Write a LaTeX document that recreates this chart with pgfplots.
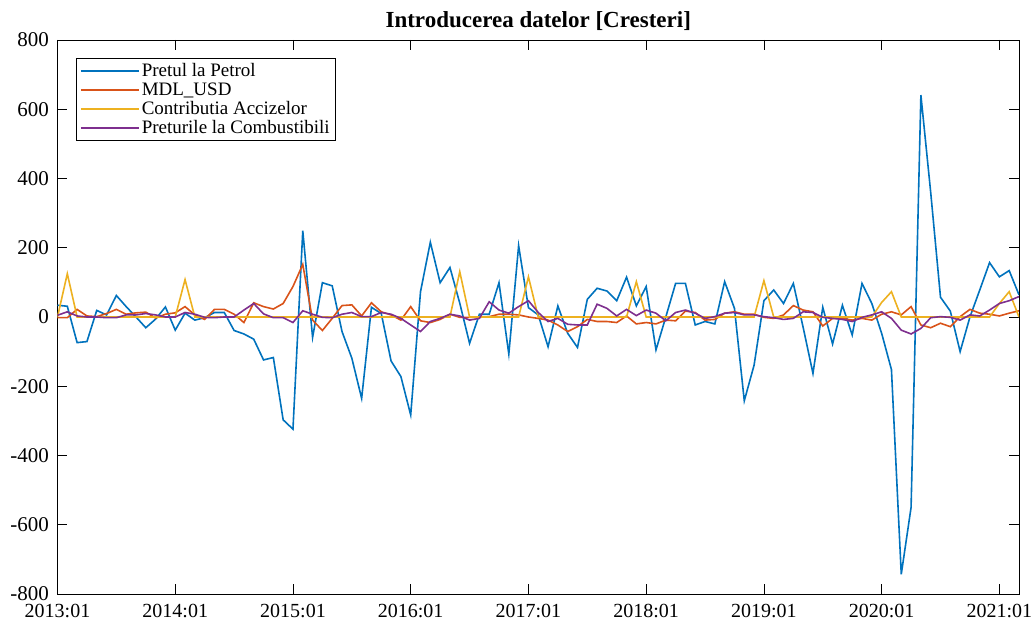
\documentclass[border=0pt]{standalone}
\usepackage{pgfplots}
\pgfplotsset{compat=1.18}
\usepackage{fontspec}
\setmainfont{Liberation Serif}

\definecolor{mblue}{rgb}{0,0.447,0.741}
\definecolor{mred}{rgb}{0.85,0.325,0.098}
\definecolor{myellow}{rgb}{0.929,0.694,0.125}
\definecolor{mpurple}{rgb}{0.494,0.184,0.556}

\pgfplotstableread{
i petrol mdl accize comb
0 34 -2 0 5
1 31 -2 125 15
2 -74 22 0 3
3 -71 3 0 0
4 19 1 0 0
5 6 10 0 -2
6 62 22 0 -2
7 30 8 0 6
8 0 12 0 6
9 -31 14 0 10
10 -6 -3 0 6
11 29 8 0 0
12 -38 12 0 0
13 11 30 108 13
14 -9 6 0 8
15 -2 -7 0 -1
16 13 22 0 -2
17 13 22 0 0
18 -39 8 0 0
19 -49 -16 0 20
20 -64 41 0 39
21 -124 30 0 9
22 -117 23 0 -2
23 -297 39 0 -2
24 -324 88 0 -16
25 249 152 0 18
26 -59 -9 0 8
27 99 -39 0 -1
28 90 -4 0 -2
29 -42 33 0 8
30 -119 35 0 13
31 -235 3 0 1
32 28 41 0 1
33 10 15 0 13
34 -127 6 0 8
35 -172 -9 0 -4
36 -283 30 0 -23
37 73 -11 0 -42
38 216 -16 0 -13
39 99 -7 0 -4
40 143 8 0 8
41 40 -1 131 3
42 -76 -1 0 -9
43 8 -1 0 -4
44 8 1 0 44
45 99 8 0 20
46 -107 8 0 11
47 206 6 0 30
48 27 0 116 47
49 6 -4 0 13
50 -86 -9 0 -13
51 32 -23 0 -4
52 -47 -42 0 -21
53 -88 -28 0 -23
54 51 -7 0 -23
55 83 -13 0 37
56 75 -13 0 25
57 47 -16 0 3
58 115 3 0 22
59 32 -20 102 4
60 88 -16 0 20
61 -95 -20 0 11
62 0 -9 0 -11
63 97 -11 0 13
64 97 17 0 20
65 -23 13 0 11
66 -13 -9 0 -4
67 -20 -7 0 1
68 102 11 0 11
69 25 15 0 13
70 -242 8 0 6
71 -139 8 0 6
72 47 -1 105 1
73 78 -4 0 -2
74 39 6 0 -7
75 97 33 0 -4
76 -30 20 0 15
77 -163 15 0 13
78 28 -26 0 -1
79 -78 -4 0 -4
80 34 -4 0 -7
81 -52 -9 0 -13
82 97 -4 0 -1
83 39 -9 0 6
84 -47 8 42 15
85 -152 15 73 -4
86 -743 6 0 -38
87 -550 30 0 -49
88 641 -23 0 -33
89 360 -31 0 -2
90 57 -18 0 1
91 17 -28 0 -1
92 -100 1 0 -9
93 0 22 0 6
94 78 11 0 3
95 157 8 0 20
96 116 3 39 39
97 134 11 73 47
98 64 18 0 59
}\datatable

\begin{document}
\begin{tikzpicture}
\useasboundingbox (-57.5pt,-27pt) rectangle (974.5pt,594pt);
\begin{axis}[
    scale only axis,
    width=961.5pt, height=554pt,
    xmin=0, xmax=98, ymin=-800, ymax=800,
    xtick={0,12,...,96},
    xticklabels={2013:01,2014:01,2015:01,2016:01,2017:01,2018:01,2019:01,2020:01,2021:01},
    ytick={-800,-600,...,800},
    tick align=inside,
    major tick length=10pt,
    axis line style={line width=0.8pt},
    every tick/.style={black, line width=0.6pt},
    ticklabel style={font=\fontsize{21}{24}\selectfont},
    xticklabel style={yshift=-7pt, font=\fontsize{20}{22}\selectfont},
    yticklabel style={xshift=-5pt},
    /pgf/number format/assume math mode=true,
    yticklabel style={/pgf/number format/fixed},
    title={\textbf{Introducerea datelor [Cresteri]}},
    title style={font=\fontsize{23}{26}\selectfont, yshift=0pt},
    legend cell align=left,
    legend style={at={(0.019,0.967)}, anchor=north west,
        font=\fontsize{19}{22.7}\selectfont,
        inner xsep=4pt, inner ysep=3pt, row sep=0.6pt},
    legend image code/.code={\draw[#1, line width=1.8pt] (0pt,0pt) -- (58pt,0pt);},
    every axis plot/.append style={line width=1.6pt},
]
\addplot[mblue] table[x=i, y=petrol] {\datatable};
\addplot[mred] table[x=i, y=mdl] {\datatable};
\addplot[myellow] table[x=i, y=accize] {\datatable};
\addplot[mpurple] table[x=i, y=comb] {\datatable};
\legend{Pretul la Petrol, MDL\_USD, Contributia Accizelor, Preturile la Combustibili}
\end{axis}
\end{tikzpicture}
\end{document}
